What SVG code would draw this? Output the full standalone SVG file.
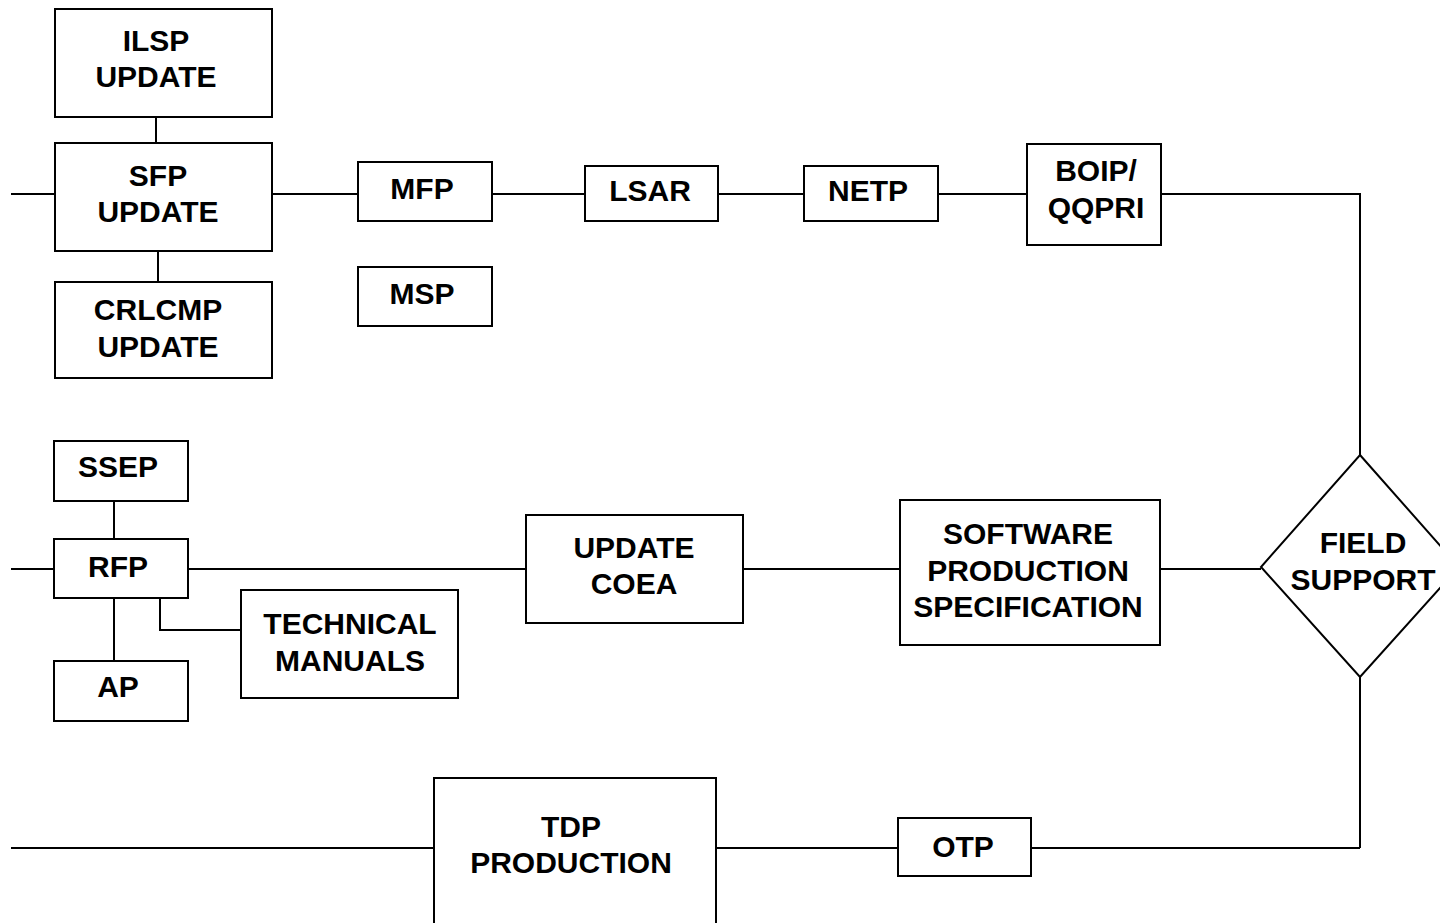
<svg xmlns="http://www.w3.org/2000/svg" width="1440" height="923" viewBox="0 0 1440 923">
<style>
.box{fill:#fff;stroke:#000;stroke-width:2}
.ln{fill:none;stroke:#000;stroke-width:2}
text{font-family:"Liberation Sans",Arial,sans-serif;font-weight:bold;font-size:30px;text-anchor:middle;fill:#000}
</style>
<rect width="1440" height="923" fill="#fff"/>
<g id="connectors">
<path class="ln" d="M11 194H55M156 117V143M158 251V282M272 194H358M492 194H585M718 194H804M938 194H1027M1161 194H1360V455M1360 677V848M11 848H434M716 848H898M1031 848H1360"/>
<path class="ln" d="M11 569H54M114 501V539M114 598V661M160 598V630H241M188 569H526M743 569H900M1160 569H1261"/>
</g>
<g id="ilsp"><rect class="box" x="55" y="9" width="217" height="108"/><text x="156" y="51">ILSP</text><text x="156" y="87">UPDATE</text></g>
<g id="sfp"><rect class="box" x="55" y="143" width="217" height="108"/><text x="158" y="186">SFP</text><text x="158" y="222">UPDATE</text></g>
<g id="crlcmp"><rect class="box" x="55" y="282" width="217" height="96"/><text x="158" y="320">CRLCMP</text><text x="158" y="357">UPDATE</text></g>
<g id="mfp"><rect class="box" x="358" y="162" width="134" height="59"/><text x="422" y="199">MFP</text></g>
<g id="msp"><rect class="box" x="358" y="267" width="134" height="59"/><text x="422" y="304">MSP</text></g>
<g id="lsar"><rect class="box" x="585" y="166" width="133" height="55"/><text x="650" y="201">LSAR</text></g>
<g id="netp"><rect class="box" x="804" y="166" width="134" height="55"/><text x="868" y="201">NETP</text></g>
<g id="boip"><rect class="box" x="1027" y="144" width="134" height="101"/><text x="1096" y="181">BOIP/</text><text x="1096" y="218">QQPRI</text></g>
<g id="ssep"><rect class="box" x="54" y="441" width="134" height="60"/><text x="118" y="477">SSEP</text></g>
<g id="rfp"><rect class="box" x="54" y="539" width="134" height="59"/><text x="118" y="577">RFP</text></g>
<g id="ap"><rect class="box" x="54" y="661" width="134" height="60"/><text x="118" y="697">AP</text></g>
<g id="tech"><rect class="box" x="241" y="590" width="217" height="108"/><text x="350" y="634">TECHNICAL</text><text x="350" y="671">MANUALS</text></g>
<g id="coea"><rect class="box" x="526" y="515" width="217" height="108"/><text x="634" y="558">UPDATE</text><text x="634" y="594">COEA</text></g>
<g id="sps"><rect class="box" x="900" y="500" width="260" height="145"/><text x="1028" y="544">SOFTWARE</text><text x="1028" y="581">PRODUCTION</text><text x="1028" y="617">SPECIFICATION</text></g>
<g id="field"><polygon class="box" points="1360,455 1459,567 1360,677 1261,567"/><text x="1363" y="553">FIELD</text><text x="1363" y="590">SUPPORT</text></g>
<g id="tdp"><rect class="box" x="434" y="778" width="282" height="150"/><text x="571" y="837">TDP</text><text x="571" y="873">PRODUCTION</text></g>
<g id="otp"><rect class="box" x="898" y="818" width="133" height="58"/><text x="963" y="857">OTP</text></g>
</svg>
